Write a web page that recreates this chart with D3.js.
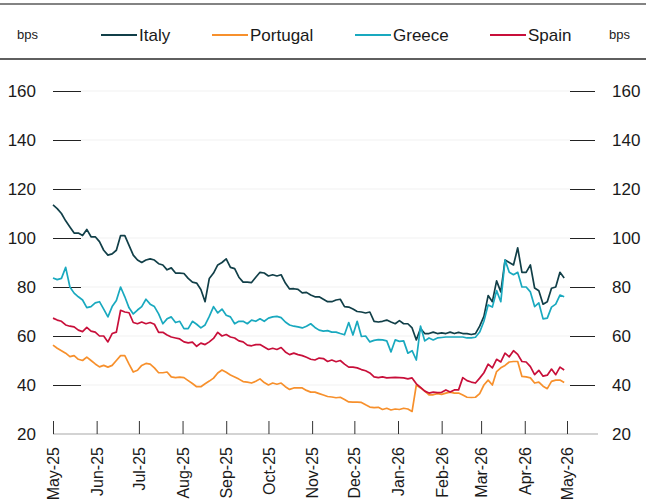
<!DOCTYPE html>
<html>
<head>
<meta charset="utf-8">
<script src="https://cdn.jsdelivr.net/npm/d3@7"></script>
<style>
	body { margin: 0; background: #fff; }
	svg { display: block; font-family: "Liberation Sans", Arial, sans-serif; }
</style>
</head>
<body>
<div id="chart"></div>
<script>
// spread to Bund, bps, one reading every 3 days starting 1 May 2025
var startDate = new Date(2025, 4, 1);
var stepDays = 3;

var italy = [
	113.5, 112, 110, 107, 104.5, 102, 102, 101, 103.5, 100.5,
	100.5, 98.5, 95, 93, 93.5, 95, 101, 101, 97, 93,
	91, 90, 91, 91.5, 91, 89.5, 89, 87, 87.8, 85.7,
	85.7, 85.5, 83.5, 82, 81.6, 79, 74, 83.5, 85.7, 89,
	90, 91.5, 88, 87.5, 84, 82, 82, 81.8, 84, 86,
	85.7, 84.5, 85, 84.5, 85, 81.6, 79.2, 79.3, 79, 77.6,
	77.8, 76.7, 76, 76, 75, 74, 74, 74.7, 75, 72,
	71.8, 71, 70, 69.8, 69.4, 69.8, 66, 65.7, 66, 66.5,
	65.7, 65, 66.3, 65, 65, 63.3, 58.4, 63, 61, 61,
	61.6, 61, 61.3, 61, 61.6, 61, 61.5, 61, 61, 60.6,
	61, 64, 68, 76.5, 74, 82.5, 78, 91, 90, 89,
	96, 86, 86, 89, 79.6, 78.5, 73, 74, 79.5, 80,
	86, 83.7
];
var portugal = [
	56.3, 55, 54, 53, 51.6, 52, 50.5, 50, 51.4, 50,
	48.6, 47.4, 48, 47.3, 48, 50, 52, 52, 48.5, 45.3,
	46, 48, 48.8, 48.5, 47, 45, 45, 45.3, 43.3, 43,
	43.2, 43, 41.8, 40.6, 39.3, 39.3, 40.5, 41.6, 42.8, 44.9,
	46.1, 45.2, 44.1, 43.3, 42.4, 41.4, 41.2, 40.8, 41.5, 42.5,
	41, 40, 40.8, 40.3, 40.8, 39.3, 38.2, 38.8, 38.8, 38.8,
	37.8, 37.1, 37.1, 36.5, 35.9, 35.3, 35.1, 34.8, 35, 34.1,
	33.1, 33, 33, 32.9, 31.9, 31, 30.8, 30.9, 30, 30.5,
	29.8, 30.2, 30, 30.5, 30.2, 29.2, 40, 38.8, 37.5, 36,
	36, 36.5, 36.2, 36.7, 37.1, 36.7, 36.7, 35.9, 35, 34.9,
	35, 36.5, 40, 42, 40, 45.5, 47, 48, 49.4, 49.6,
	49.6, 43.5, 43.3, 42.9, 40.8, 41.2, 39.5, 38.5, 41.5, 42,
	42, 41
];
var greece = [
	83.7, 83, 83.5, 88, 80, 77.5, 76, 74.7, 71.6, 72,
	73.5, 74, 71, 67.8, 72, 74.5, 80, 76, 71.5, 69,
	70.6, 72, 75, 73, 72, 69, 65, 67, 67.8, 65.5,
	66, 63, 63, 66, 64.8, 63.3, 64.5, 68, 72, 69.4,
	71, 68.5, 67.8, 65, 66, 66, 65, 66.5, 66, 67,
	66, 67.3, 67.8, 68, 67.5, 65.7, 64.5, 64, 63.7, 63.3,
	64, 65, 63.5, 62.4, 62, 62.2, 61.6, 61.6, 61, 60.5,
	65.5, 60.4, 66, 59.8, 60, 57.6, 58.2, 58.5, 58.4, 58,
	53.5, 58.4, 57.8, 58, 53, 54, 50.2, 64, 58, 59.2,
	58.4, 59.2, 59.4, 59.6, 59.6, 59.6, 59.6, 59.6, 59.2, 59.2,
	59.5, 61.6, 66, 72.7, 71.8, 78.5, 74, 91, 86, 85,
	86, 80, 80, 78, 72, 73.5, 67, 67.3, 71.8, 73,
	76.7, 76
];
var spain = [
	67.3, 66.5, 66, 64.5, 64, 63.7, 62.4, 61.8, 63.5, 62,
	61.6, 60, 60, 57.6, 61, 61.6, 70.5, 69.8, 69.5, 65.5,
	65, 65.7, 65, 65.5, 64.8, 61.5, 61.5, 60.4, 59.6, 59.2,
	58.8, 57.6, 57.2, 57.5, 55.8, 57.1, 56.5, 57.6, 59, 61.5,
	60, 60.6, 59.6, 59.2, 58, 57.6, 56.3, 56, 56.5, 56.5,
	55.5, 54.5, 55, 54.5, 55.3, 53.5, 52.4, 53, 52.4, 52,
	51.3, 50.5, 50.2, 51, 50.8, 49.6, 50.2, 49.5, 50, 48.5,
	47.3, 47.3, 47, 46.3, 45.8, 44.9, 43.3, 43, 43.3, 42.9,
	43, 43.1, 43, 42.9, 42.5, 42.9, 40.5, 39, 37.5, 36.7,
	37.1, 36.9, 37, 38, 37.1, 38, 38, 43, 41.8, 41.2,
	40.8, 42.8, 45, 48.5, 47, 50.5, 49.4, 53, 51.5, 54,
	52.5, 49.6, 49.4, 47.5, 44.2, 46, 43.6, 44, 46.5, 44.2,
	47.3, 46.1
];

var seriesNames = ["Italy", "Portugal", "Greece", "Spain"];
var seriesColors = ["#113f48", "#f7902c", "#19a9bf", "#c80f3a"];
var yTicks = [20, 40, 60, 80, 100, 120, 140, 160];

var width = 656, height = 504;

var svg = d3.select("#chart").append("svg")
	.attr("width", width)
	.attr("height", height);

// frame lines around the legend
svg.append("line")
	.attr("x1", 0).attr("x2", 646).attr("y1", 4).attr("y2", 4)
	.attr("stroke", "#5a5a5a").attr("stroke-width", 1.5);
svg.append("line")
	.attr("x1", 0).attr("x2", 646).attr("y1", 59).attr("y2", 59)
	.attr("stroke", "#2a2a2a").attr("stroke-width", 1.5);

// scales
var x = d3.scaleTime()
	.domain([new Date(2025, 4, 1), new Date(2026, 4, 1)])
	.range([53, 567]);
var y = d3.scaleLinear()
	.domain([20, 160])
	.range([434, 91]);

var dates = italy.map(function (d, i) {
	return d3.timeDay.offset(startDate, i * stepDays);
});

// faint grid
svg.append("g").selectAll("line")
	.data(yTicks.slice(1))
	.enter().append("line")
	.attr("x1", 81).attr("x2", 570)
	.attr("y1", function (d) { return y(d); })
	.attr("y2", function (d) { return y(d); })
	.attr("stroke", "#f1f1f1");

// left axis
var left = svg.append("g")
	.attr("transform", "translate(81,0)")
	.call(d3.axisLeft(y).tickValues(yTicks).tickSizeInner(28).tickSizeOuter(0).tickPadding(17));
// right axis
var right = svg.append("g")
	.attr("transform", "translate(570,0)")
	.call(d3.axisRight(y).tickValues(yTicks).tickSizeInner(25).tickSizeOuter(0).tickPadding(17));

[left, right].forEach(function (g) {
	g.select(".domain").remove();
	g.selectAll(".tick line")
		.attr("stroke", "#222")
		.attr("stroke-width", 1)
		.filter(function (d) { return d === 20; }).remove();
	g.selectAll(".tick text")
		.style("font-size", "17px")
		.attr("fill", "#1a1a1a");
});

// baseline
svg.append("line")
	.attr("x1", 53).attr("x2", 598)
	.attr("y1", y(20)).attr("y2", y(20))
	.attr("stroke", "#c4c4c4").attr("stroke-width", 1.5);

// x axis, ticks pointing up, labels rotated
var xAxis = svg.append("g")
	.attr("transform", "translate(0," + y(20) + ")")
	.call(d3.axisBottom(x)
		.ticks(d3.timeMonth.every(1))
		.tickSizeInner(-13)
		.tickSizeOuter(0)
		.tickFormat(d3.timeFormat("%b-%y")));
xAxis.select(".domain").remove();
xAxis.selectAll(".tick line").attr("stroke", "#333");
xAxis.selectAll(".tick text")
	.attr("y", 0)
	.attr("dy", "0.35em")
	.attr("transform", "translate(0,13) rotate(-90)")
	.style("text-anchor", "end")
	.style("font-size", "16px")
	.attr("fill", "#1a1a1a");

// lines
var allSeries = [italy, portugal, greece, spain];
var line = d3.line()
	.x(function (d, i) { return x(dates[i]); })
	.y(function (d) { return y(d); });

allSeries.forEach(function (s, k) {
	svg.append("path")
		.datum(s)
		.attr("fill", "none")
		.attr("stroke", seriesColors[k])
		.attr("stroke-width", 1.7)
		.attr("stroke-linejoin", "round")
		.attr("d", line);
});

// legend
svg.append("text").attr("x", 17).attr("y", 39)
	.style("font-size", "13px").attr("fill", "#222").text("bps");
svg.append("text").attr("x", 609).attr("y", 39)
	.style("font-size", "13px").attr("fill", "#222").text("bps");

var legendX = [101, 212, 355, 490];
seriesNames.forEach(function (name, k) {
	svg.append("line")
		.attr("x1", legendX[k]).attr("x2", legendX[k] + 36)
		.attr("y1", 35).attr("y2", 35)
		.attr("stroke", seriesColors[k]).attr("stroke-width", 2);
	svg.append("text")
		.attr("x", legendX[k] + 38).attr("y", 41)
		.style("font-size", "17px")
		.attr("fill", "#1a1a1a")
		.text(name);
});
</script>
</body>
</html>
